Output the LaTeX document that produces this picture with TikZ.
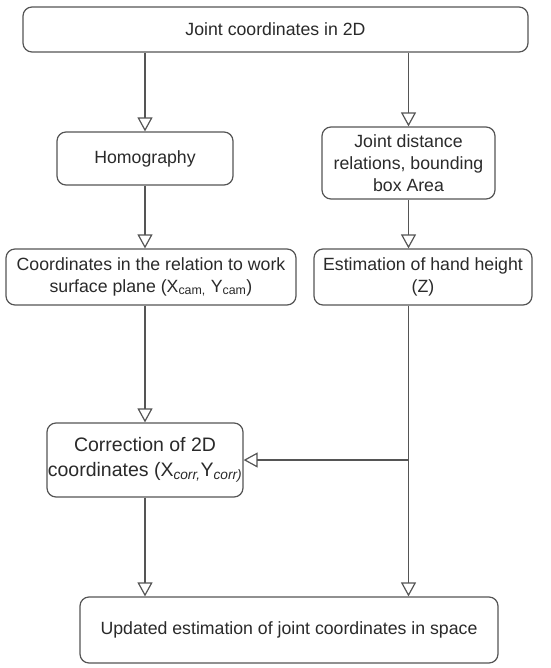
\documentclass[tikz,border=0pt]{standalone}
\usepackage{fontspec}
\setmainfont{Liberation Sans}
\usepackage{tikz}
\usetikzlibrary{arrows.meta, positioning, calc}
\usepackage{xcolor}
\definecolor{linegray}{HTML}{555555}
\definecolor{textgray}{HTML}{2A2A2A}
\tikzstyle{block} = [rectangle, rounded corners=9pt, draw=linegray, line width=1.2pt, fill=white, text=textgray, align=center, inner sep=0pt, font=\fontsize{17.7}{22}\selectfont]
\tikzstyle{arrow} = [draw=linegray, line width=1.2pt, -{Triangle[open, length=14pt, width=15pt]}]

\begin{document}
\begin{tikzpicture}[x=1pt, y=-1pt]
  \useasboundingbox (0,0) rectangle (550,668);
  % Boxes
  \node[block, minimum width=505pt, minimum height=45pt] (joints) at (275.5,29.5) {Joint coordinates in 2D};
  \node[block, minimum width=176pt, minimum height=53pt] (homog) at (145,158.5) {Homography};
  \node[block, minimum width=173pt, minimum height=72pt] (relations) at (408.5,163) {Joint distance\\relations, bounding\\box Area};
  \node[block, minimum width=290pt, minimum height=56pt] (surface) at (151,277) {Coordinates in the relation to work\\surface plane (X\textsubscript{cam,} Y\textsubscript{cam})};
  \node[block, minimum width=218pt, minimum height=56pt] (height) at (423,277) {Estimation of hand height\\(Z)};
  \node[block, minimum width=196pt, minimum height=74pt, font=\fontsize{19.5}{25}\selectfont] (corr) at (145,460) {Correction of 2D\\coordinates (X\textsubscript{\itshape corr,}Y\textsubscript{\itshape corr)}};
  \node[block, minimum width=418pt, minimum height=66pt] (updated) at (289,630) {Updated estimation of joint coordinates in space};

  % Connectors
  \draw[arrow] (joints.south -| homog) -- (homog);
  \draw[arrow] (joints.south -| relations) -- (relations);
  \draw[arrow] (homog) -- (homog |- surface.north);
  \draw[arrow] (relations) -- (relations |- height.north);
  \draw[arrow] (surface.south -| corr) -- (corr);
  \draw[arrow] (height.south -| relations) -- (relations |- updated.north);
  \draw[arrow] (relations |- corr) -- (corr.east);
  \draw[arrow] (corr) -- (corr |- updated.north);
\end{tikzpicture}
\end{document}
